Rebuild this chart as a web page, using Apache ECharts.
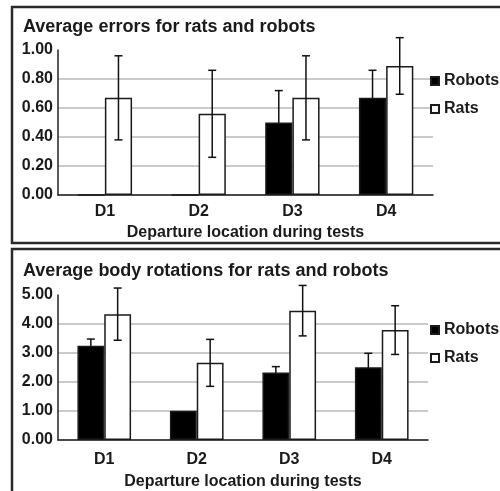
<!DOCTYPE html>
<html>
<head>
<meta charset="utf-8">
<script src="https://cdn.jsdelivr.net/npm/echarts@6/dist/echarts.min.js"></script>
<style>
html,body{margin:0;padding:0;background:#fff;}
#c{width:500px;height:491px;}
</style>
</head>
<body>
<div id="c"></div>
<script>
const categories = ['D1', 'D2', 'D3', 'D4'];
const seriesNames = ['Robots', 'Rats'];
const title1 = 'Average errors for rats and robots';
const title2 = 'Average body rotations for rats and robots';
const xAxisName = 'Departure location during tests';

const errRobots = [0, 0, 0.50, 0.67];
const errRobotsSE = [0, 0, 0.22, 0.19];
const errRats = [0.67, 0.56, 0.67, 0.89];
const errRatsSE = [0.29, 0.30, 0.29, 0.195];

const rotRobots = [3.25, 1.01, 2.33, 2.51];
const rotRobotsSE = [0.23, 0, 0.20, 0.48];
const rotRats = [4.34, 2.66, 4.46, 3.79];
const rotRatsSE = [0.90, 0.81, 0.87, 0.84];

const FONT = "'Liberation Sans', Arial, sans-serif";
const TXT = '#1a1a1a';
const BAR_FRAC = 0.29;

function errData(vals, se) {
  return vals.map((v, i) => [i, v - se[i], v + se[i], se[i]]);
}
function errSeries(name, gi, vals, se, side, z) {
  return {
    type: 'custom',
    name: name + ' error',
    xAxisIndex: gi, yAxisIndex: gi,
    z: z,
    silent: true,
    data: errData(vals, se),
    encode: { x: 0, y: [1, 2] },
    renderItem: function (params, api) {
      if (api.value(3) <= 0) return null;
      const band = api.size([1, 0])[0];
      const off = side * band * BAR_FRAC / 2;
      const lo = api.coord([api.value(0), api.value(1)]);
      const hi = api.coord([api.value(0), api.value(2)]);
      const x = lo[0] + off;
      const cap = 4;
      const st = { stroke: '#111', lineWidth: 1.5 };
      return {
        type: 'group',
        children: [
          { type: 'line', shape: { x1: x, y1: lo[1], x2: x, y2: hi[1] }, style: st },
          { type: 'line', shape: { x1: x - cap, y1: lo[1], x2: x + cap, y2: lo[1] }, style: st },
          { type: 'line', shape: { x1: x - cap, y1: hi[1], x2: x + cap, y2: hi[1] }, style: st }
        ]
      };
    }
  };
}
function barSeries(name, gi, vals, fill) {
  return {
    type: 'bar', name: name, xAxisIndex: gi, yAxisIndex: gi,
    data: vals, barWidth: (BAR_FRAC * 100) + '%', barGap: '0%',
    itemStyle: { color: fill, borderColor: '#1a1a1a', borderWidth: 1.5 },
    emphasis: { disabled: true }, z: 3
  };
}
function xAxis(gi, margin, nameGap) {
  return {
    type: 'category', gridIndex: gi, data: categories,
    axisLine: { lineStyle: { color: '#222', width: 1.5 } },
    axisTick: { show: false },
    axisLabel: { color: TXT, fontFamily: FONT, fontWeight: 'bold', fontSize: 16, margin: margin },
    name: xAxisName, nameLocation: 'middle', nameGap: nameGap,
    nameTextStyle: { color: TXT, fontFamily: FONT, fontWeight: 'bold', fontSize: 16 }
  };
}
function yAxis(gi, max, interval) {
  return {
    type: 'value', gridIndex: gi, min: 0, max: max, interval: interval,
    axisLine: { show: true, lineStyle: { color: '#222', width: 1.5 } },
    axisTick: { show: false },
    axisLabel: { color: TXT, fontFamily: FONT, fontWeight: 'bold', fontSize: 16, margin: 5,
      formatter: v => v.toFixed(2) },
    splitLine: { show: true, showMaxLine: false, lineStyle: { color: '#b8b8b8', width: 1.5 } }
  };
}
function legend(top) {
  return {
    left: 430, top: top, orient: 'vertical', itemWidth: 8, itemHeight: 8, itemGap: 12,
    icon: 'rect', selectedMode: false, padding: 0,
    data: seriesNames,
    textStyle: { color: TXT, fontFamily: FONT, fontWeight: 'bold', fontSize: 16, lineHeight: 16 }
  };
}

const chart = echarts.init(document.getElementById('c'), null, { renderer: 'canvas' });
chart.setOption({
  animation: false,
  backgroundColor: '#fff',
  title: [
    { text: title1, left: 18, top: 13, textStyle: { color: TXT, fontFamily: FONT, fontWeight: 'bold', fontSize: 18 } },
    { text: title2, left: 18, top: 257, textStyle: { color: TXT, fontFamily: FONT, fontWeight: 'bold', fontSize: 18 } }
  ],
  legend: [legend(73), legend(322)],
  grid: [
    { left: 58, right: 67, top: 50, height: 145 },
    { left: 58, right: 72, top: 295, height: 145 }
  ],
  xAxis: [xAxis(0, 9, 30), xAxis(1, 12, 34)],
  yAxis: [yAxis(0, 1, 0.2), yAxis(1, 5, 1)],
  series: [
    barSeries('Robots', 0, errRobots, '#000'),
    barSeries('Rats', 0, errRats, '#fff'),
    errSeries('Robots', 0, errRobots, errRobotsSE, -1, 2),
    errSeries('Rats', 0, errRats, errRatsSE, 1, 10),
    barSeries('Robots', 1, rotRobots, '#000'),
    barSeries('Rats', 1, rotRats, '#fff'),
    errSeries('Robots', 1, rotRobots, rotRobotsSE, -1, 2),
    errSeries('Rats', 1, rotRats, rotRatsSE, 1, 10)
  ],
  graphic: [
    { type: 'rect', shape: { x: 12, y: 7, width: 500, height: 236 }, style: { fill: null, stroke: '#2a2a2a', lineWidth: 2.5 }, z: 100 },
    { type: 'rect', shape: { x: 12, y: 249, width: 500, height: 260 }, style: { fill: null, stroke: '#2a2a2a', lineWidth: 2.5 }, z: 100 }
  ]
});
</script>
</body>
</html>
